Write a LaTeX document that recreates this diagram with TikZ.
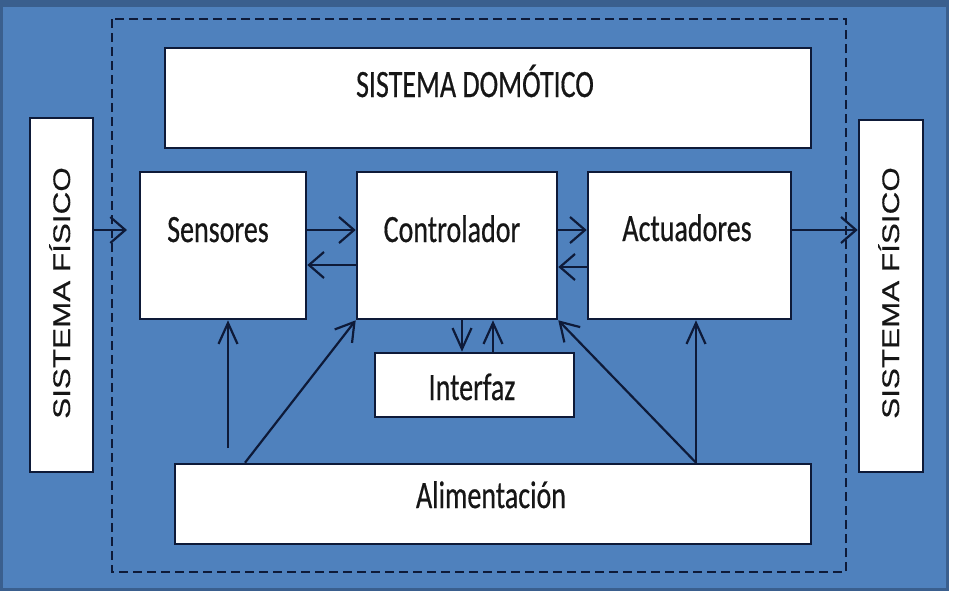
\documentclass[tikz,border=0pt]{standalone}
\usepackage{fontspec}
\setmainfont{Carlito}[FakeBold=0.6]
\newfontfamily\arialf{Liberation Sans}[FakeBold=0.3]
\usetikzlibrary{arrows.meta}
\definecolor{bgblue}{HTML}{4F81BD}
\definecolor{bgedge}{HTML}{3A5F8E}
\definecolor{navy}{HTML}{0E1A38}
\definecolor{txt}{HTML}{161616}
\newcommand\stretchtxt[1]{\scalebox{1}[1.38]{#1}}
\tikzset{
  box/.style={draw=navy, fill=white, line width=2.6pt, rectangle, inner sep=0pt},
  lbl/.style={anchor=base, inner sep=0pt, text=txt, font=\fontsize{28}{30}\selectfont},
  vlbl/.style={anchor=base, inner sep=0pt, rotate=90, text=txt, font=\arialf\fontsize{24}{26}\selectfont},
  arr/.style={draw=navy, line width=2.2pt},
  harr/.style={arr, -{Straight Barb[length=15pt,width=26pt]}},
  varr/.style={arr, -{Straight Barb[length=21pt,width=19pt]}},
  darr/.style={arr, -{Straight Barb[length=18pt,width=22pt]}}
}
\begin{document}
\begin{tikzpicture}[x=1pt,y=-1pt]
\useasboundingbox (0,0) rectangle (955,600);
\fill[white] (0,0) rectangle (955,600);
\fill[bgblue] (0,0) rectangle (949,591);
\draw[bgedge, line width=3pt] (1.5,1.5) rectangle (947.5,589.5);
\fill[bgedge] (0,0) rectangle (949,7);
\draw[navy, line width=2pt, dash pattern=on 9pt off 5pt] (112,19) rectangle (846,572);

% boxes
\node[box, minimum width=646pt, minimum height=100pt] (dom) at (488,98) {};
\node[box, minimum width=63pt, minimum height=354pt] (fisL) at (61.5,295) {};
\node[box, minimum width=64pt, minimum height=352pt] (fisR) at (891,296) {};
\node[box, minimum width=166pt, minimum height=147pt] (sen) at (223,245.5) {};
\node[box, minimum width=200pt, minimum height=147pt] (ctl) at (457,245.5) {};
\node[box, minimum width=203pt, minimum height=147pt] (act) at (689.5,245.5) {};
\node[box, minimum width=199pt, minimum height=64pt] (int) at (474.5,385) {};
\node[box, minimum width=636pt, minimum height=80pt] (ali) at (493,504) {};

% labels
\node[lbl] (domT) at (475,97) {\stretchtxt{SISTEMA DOMÓTICO}};
\node[lbl] (senT) at (218,242) {\stretchtxt{Sensores}};
\node[lbl] (ctlT) at (452,242) {\stretchtxt{Controlador}};
\node[lbl] (actT) at (687,241) {\stretchtxt{Actuadores}};
\node[lbl] (intT) at (472,400) {\stretchtxt{Interfaz}};
\node[lbl] (aliT) at (491,508) {\stretchtxt{Alimentación}};
\node[vlbl] (fisLT) at (70,293) {\scalebox{1.31}[1]{SISTEMA FÍSICO}};
\node[vlbl] (fisRT) at (899,293) {\scalebox{1.31}[1]{SISTEMA FÍSICO}};

% helper coordinates
\coordinate (r1) at (0,230);
\coordinate (r2) at (0,265);
\coordinate (r3) at (0,267);
\coordinate (c1) at (462,0);
\coordinate (c2) at (493,0);
\coordinate (inL) at (127,230);
\coordinate (s9) at (228,448);
\coordinate (a10) at (245,0);
\coordinate (a11) at (696,0);

% connectors
\draw[harr] (fisL.east |- r1) -- (inL);
\draw[harr] (sen.east |- r1) -- (ctl.west |- r1);
\draw[harr] (ctl.west |- r2) -- (sen.east |- r2);
\draw[harr] (ctl.east |- r1) -- (act.west |- r1);
\draw[harr] (act.west |- r3) -- (ctl.east |- r3);
\draw[harr] (act.east |- r1) -- (fisR.west |- r1);
\draw[varr] (ctl.south -| c1) -- (int.north -| c1);
\draw[varr] (int.north -| c2) -- (ctl.south -| c2);
\draw[varr] (s9) -- (sen.south -| s9);
\draw[darr] (ali.north -| a10) -- (ctl.south west);
\draw[darr] (ali.north -| a11) -- (ctl.south east);
\draw[varr] (ali.north -| a11) -- (act.south -| a11);
\end{tikzpicture}
\end{document}
